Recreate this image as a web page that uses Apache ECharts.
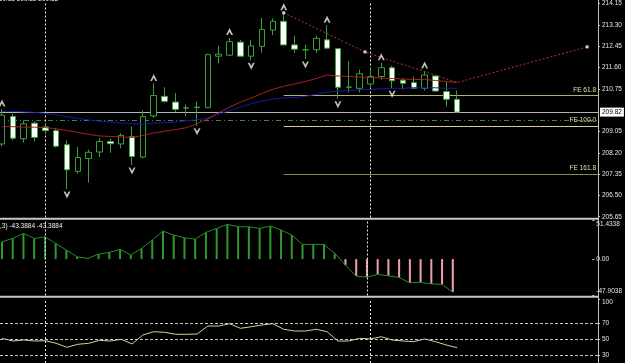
<!DOCTYPE html>
<html><head><meta charset="utf-8">
<script src="https://cdn.jsdelivr.net/npm/echarts@6/dist/echarts.min.js"></script>
<style>html,body{margin:0;padding:0;background:#000;}#c{width:625px;height:363px;}</style>
</head><body><div id="c"></div>
<script>
// ---- data ----
const opens  = [208.55,209.65,208.76,209.38,209.23,209.08,208.52,207.46,207.97,208.23,208.65,208.55,208.84,208.03,209.67,210.45,210.22,209.98,210.00,210.00,212.05,212.09,212.61,212.05,212.44,213.09,213.44,212.50,212.30,212.31,212.70,212.35,210.81,210.77,210.94,211.24,211.59,211.09,211.00,210.77,211.26,210.64,210.33];
const closes = [209.70,208.78,209.35,208.81,209.08,208.46,207.52,208.01,208.22,208.65,208.56,208.89,208.05,209.64,210.48,210.25,209.93,209.99,210.02,212.11,212.13,212.63,212.05,212.46,213.12,213.44,212.50,212.33,212.31,212.76,212.37,210.81,210.82,211.35,211.24,211.59,211.07,210.97,210.77,211.30,210.66,210.33,209.82];
const highs  = [209.94,209.75,209.49,209.46,209.32,209.16,208.69,208.44,208.32,208.78,208.76,208.98,209.25,209.89,210.96,210.81,210.58,210.12,210.24,212.15,212.46,212.79,212.70,212.70,213.57,213.55,213.78,212.87,212.50,212.87,213.28,212.37,211.85,211.52,211.62,211.79,211.66,211.16,211.24,211.46,211.29,211.03,210.68];
const lows   = [208.46,208.70,208.60,208.65,208.99,208.41,206.76,207.36,207.01,208.03,208.20,208.38,207.71,207.97,209.59,210.20,209.83,209.65,209.28,209.98,211.76,212.05,212.02,211.89,212.19,212.89,212.48,212.18,211.94,212.18,212.35,210.35,210.61,210.61,210.81,211.11,210.77,210.72,210.74,210.68,210.64,210.04,209.82];
const maRed  = [209.24,209.24,209.22,209.22,209.20,209.16,209.08,209.01,208.93,208.87,208.85,208.83,208.81,208.89,208.99,209.06,209.12,209.20,209.36,209.55,209.79,210.02,210.22,210.38,210.57,210.73,210.85,210.94,211.04,211.16,211.30,211.26,211.24,211.22,211.20,211.18,211.16,211.14,211.12,211.12,211.08,211.04,211.00];
const maBlue = [209.85,209.85,209.83,209.81,209.77,209.71,209.63,209.57,209.51,209.46,209.42,209.38,209.36,209.34,209.38,209.40,209.42,209.48,209.51,209.59,209.75,209.87,210.02,210.16,210.26,210.34,210.38,210.40,210.45,210.53,210.61,210.65,210.69,210.71,210.73,210.75,210.77,210.77,210.79,210.79,210.79,210.77,210.77];
const osma   = [22.8,27.2,33.8,27.2,29.3,20.7,11.8,3.0,0.9,6.6,8.8,12.8,5.3,14.1,25.0,36.8,31.6,28.0,26.3,35.1,40.4,45.7,42.5,42.5,40.4,43.4,38.2,31.6,19.3,19.3,19.3,7.5,-7.9,-22.4,-23.7,-20.1,-22.0,-24.3,-31.2,-30.7,-32.6,-33.3,-43.3884];
const rsi    = [51.1,47.7,49.0,47.7,48.1,44.8,39.8,43.6,44.8,48.6,47.7,49.9,44.0,55.3,59.4,58.7,56.2,56.2,56.5,66.6,66.6,69.5,63.7,65.7,67.9,69.5,62.5,60.3,60.3,62.5,59.4,47.7,47.7,51.1,50.3,53.1,49.0,47.7,46.9,50.3,46.9,42.7,39.3];
const upFractals   = [0,14,21,26,30,35,39];
const downFractals = [6,12,18,23,28,31,36];
const trendIdx = [26,33.5,42,54];
const trendVal = [213.78,212.22,211.00,212.42];
const trendDots = [0,1,3];
const feNames  = ['FE 61.8','FE 100.0','FE 161.8'];
const feLevels = [210.49,209.27,207.36];
const feStart  = 26;
const bidPrice = 209.82;
const greenLevel = 209.50;
const periodSeps = [4,34];
const priceTicks = [214.15,213.30,212.45,211.60,210.75,209.05,208.20,207.35,206.50,205.65];
const macdTicks = [51.4338,0,-47.9038];
const rsiTicks = [100,70,50,30];
const rsiLevels = [70,50,30];
const headerText = '210.68 209.82 209.82';
const macdHeader = ',3) -43.3884 -43.3884';

// ---- chart ----
const FONT = 'Liberation Sans';
const GREEN = '#3aa03a';
const idx = opens.map((_, i) => i);
const candleData = idx.map(i => [i, opens[i], closes[i], lows[i], highs[i]]);
const sepLines = periodSeps.map(v => ({xAxis: v}));
const sepStyle = {color: '#e8e8e8', type: [2, 2], width: 1};
const xBase = {type: 'value', min: -0.1846, max: 55, show: false};
const labelBase = {color: '#e6e6e6', fontSize: 6.5, fontFamily: FONT, margin: 4};
const tickBase = {show: true, length: 2, lineStyle: {color: '#c0c0c0'}};
const lineBase = {show: false, onZero: false};

const feLines = feLevels.map((v, k) => [
  {coord: [feStart, v], lineStyle: {color: ['#b0b070', '#d0d098', '#8a8a4c'][k], type: 'solid', width: 1},
   label: {show: true, position: 'insideEndTop', formatter: feNames[k], color: '#e0e0a8', fontSize: 6.5, fontFamily: FONT, distance: 2}},
  {coord: [55, v]}
]);

const option = {
  backgroundColor: '#000',
  animation: false,
  grid: [
    {left: 0, width: 598, top: -1, height: 218.5},
    {left: 0, width: 598, top: 220, height: 75.5},
    {left: 0, width: 598, top: 299.5, height: 63.5}
  ],
  xAxis: [Object.assign({gridIndex: 0}, xBase), Object.assign({gridIndex: 1}, xBase), Object.assign({gridIndex: 2}, xBase)],
  yAxis: [
    {gridIndex: 0, type: 'value', position: 'right', min: 205.619, max: 214.173,
     axisLine: lineBase, splitLine: {show: false},
     axisTick: Object.assign({customValues: priceTicks}, tickBase),
     axisLabel: Object.assign({customValues: priceTicks, formatter: v => v.toFixed(2)}, labelBase)},
    {gridIndex: 1, type: 'value', position: 'right', min: -47.9038, max: 51.4338,
     axisLine: lineBase, splitLine: {show: false},
     axisTick: Object.assign({customValues: macdTicks}, tickBase),
     axisLabel: Object.assign({customValues: macdTicks,
       formatter: v => v > 0 ? '{t|' + v + '}' : (v < 0 ? '{b|' + v + '}' : '{m|0.00}'),
       rich: {
         t: {padding: [8, 0, 0, 0], color: '#e6e6e6', fontSize: 6.5, fontFamily: FONT},
         b: {padding: [0, 0, 8, 0], color: '#e6e6e6', fontSize: 6.5, fontFamily: FONT},
         m: {color: '#e6e6e6', fontSize: 6.5, fontFamily: FONT}
       }}, labelBase)},
    {gridIndex: 2, type: 'value', position: 'right', min: 20, max: 100,
     axisLine: lineBase, splitLine: {show: false},
     axisTick: Object.assign({customValues: rsiTicks}, tickBase),
     axisLabel: Object.assign({customValues: rsiTicks,
       formatter: v => v === 100 ? '{t|100}' : '{m|' + v + '}',
       rich: {
         t: {padding: [6, 0, 0, 0], color: '#e6e6e6', fontSize: 6.5, fontFamily: FONT},
         m: {color: '#e6e6e6', fontSize: 6.5, fontFamily: FONT}
       }}, labelBase)}
  ],
  series: [
    {
      type: 'candlestick', xAxisIndex: 0, yAxisIndex: 0, barWidth: 6, z: 3,
      data: candleData,
      itemStyle: {color: '#000', color0: '#fff', borderColor: GREEN, borderColor0: GREEN, borderColorDoji: GREEN, borderWidth: 1},
      markLine: {
        silent: true, symbol: ['none', 'none'], animation: false, z: 2,
        data: [
          {yAxis: bidPrice, lineStyle: {color: '#b4b4b4', type: 'solid', width: 1},
           label: {show: true, position: 'end', formatter: bidPrice.toFixed(2), distance: 2,
                   backgroundColor: '#fff', color: '#000', padding: [1, 2, 1, 2], fontSize: 6.5, fontFamily: FONT}},
          {yAxis: greenLevel, lineStyle: {color: '#3b8a3b', type: [5, 3, 1, 3], width: 1}, label: {show: false}},
          ...feLines,
          ...sepLines.map(s => Object.assign({lineStyle: sepStyle, label: {show: false}}, s))
        ]
      }
    },
    {type: 'line', xAxisIndex: 0, yAxisIndex: 0, z: 4, data: idx.map(i => [i, maBlue[i]]), showSymbol: false, symbol: 'none', lineStyle: {color: '#1818a8', width: 1}},
    {type: 'line', xAxisIndex: 0, yAxisIndex: 0, z: 4, data: idx.map(i => [i, maRed[i]]), showSymbol: false, symbol: 'none', lineStyle: {color: '#a82020', width: 1}},
    {type: 'line', xAxisIndex: 0, yAxisIndex: 0, z: 5, data: trendIdx.map((x, k) => [x, trendVal[k]]), symbol: 'none', lineStyle: {color: '#c83030', width: 1, type: [2, 2]}},
    {type: 'scatter', xAxisIndex: 0, yAxisIndex: 0, z: 6, data: trendDots.map(k => [trendIdx[k], trendVal[k]]), symbol: 'rect', symbolSize: 3, itemStyle: {color: '#fff'}},
    {type: 'scatter', xAxisIndex: 0, yAxisIndex: 0, z: 6, data: upFractals.map(i => [i, highs[i]]),
     symbol: 'path://M5,0 L10,10 L7.5,10 L5,5.5 L2.5,10 L0,10 Z', symbolSize: [7, 7], symbolOffset: [0, -6], itemStyle: {color: '#f0f0f0'}},
    {type: 'scatter', xAxisIndex: 0, yAxisIndex: 0, z: 6, data: downFractals.map(i => [i, lows[i]]),
     symbol: 'path://M0,0 L2.5,0 L5,4.5 L7.5,0 L10,0 L5,10 Z', symbolSize: [7, 7], symbolOffset: [0, 6], itemStyle: {color: '#f0f0f0'}},
    // MACD / OsMA panel
    {type: 'bar', xAxisIndex: 1, yAxisIndex: 1, barWidth: 2, data: idx.map(i => [i, osma[i]]),
     itemStyle: {color: p => p.value[1] >= 0 ? '#2e9a2e' : '#f0a0a8'},
     markLine: {silent: true, symbol: ['none', 'none'], data: sepLines, lineStyle: sepStyle, label: {show: false}}},
    {type: 'line', xAxisIndex: 1, yAxisIndex: 1, z: 4, data: idx.map(i => [i, osma[i]]), symbol: 'none', lineStyle: {color: '#2a8a2a', width: 1}},
    // RSI panel
    {type: 'line', xAxisIndex: 2, yAxisIndex: 2, z: 4, data: idx.map(i => [i, rsi[i]]), symbol: 'none', lineStyle: {color: '#d8d0a0', width: 1},
     markLine: {silent: true, symbol: ['none', 'none'], label: {show: false},
       data: rsiLevels.map(v => ({yAxis: v, lineStyle: {color: '#c8c8c8', type: [3, 2], width: 1}}))
         .concat(sepLines.map(s => Object.assign({lineStyle: sepStyle}, s)))}}
  ],
  graphic: [
    {type: 'line', z: 100, shape: {x1: 0, y1: 218.8, x2: 598, y2: 218.8}, style: {stroke: '#c8c8c8', lineWidth: 2}},
    {type: 'line', z: 100, shape: {x1: 0, y1: 296.7, x2: 598, y2: 296.7}, style: {stroke: '#c8c8c8', lineWidth: 2}},
    {type: 'line', z: 100, shape: {x1: 598.5, y1: 0, x2: 598.5, y2: 363}, style: {stroke: '#c0c0c0', lineWidth: 1}},
    {type: 'text', z: 100, x: -5, y: -4, style: {text: headerText, fill: '#f0f0f0', font: '6.5px "Liberation Sans"'}},
    {type: 'text', z: 100, x: 0, y: 223, style: {text: macdHeader, fill: '#f0f0f0', font: '6.5px "Liberation Sans"'}}
  ]
};
const chart = echarts.init(document.getElementById('c'), null, {renderer: 'canvas'});
chart.setOption(option);
</script>
</body></html>
